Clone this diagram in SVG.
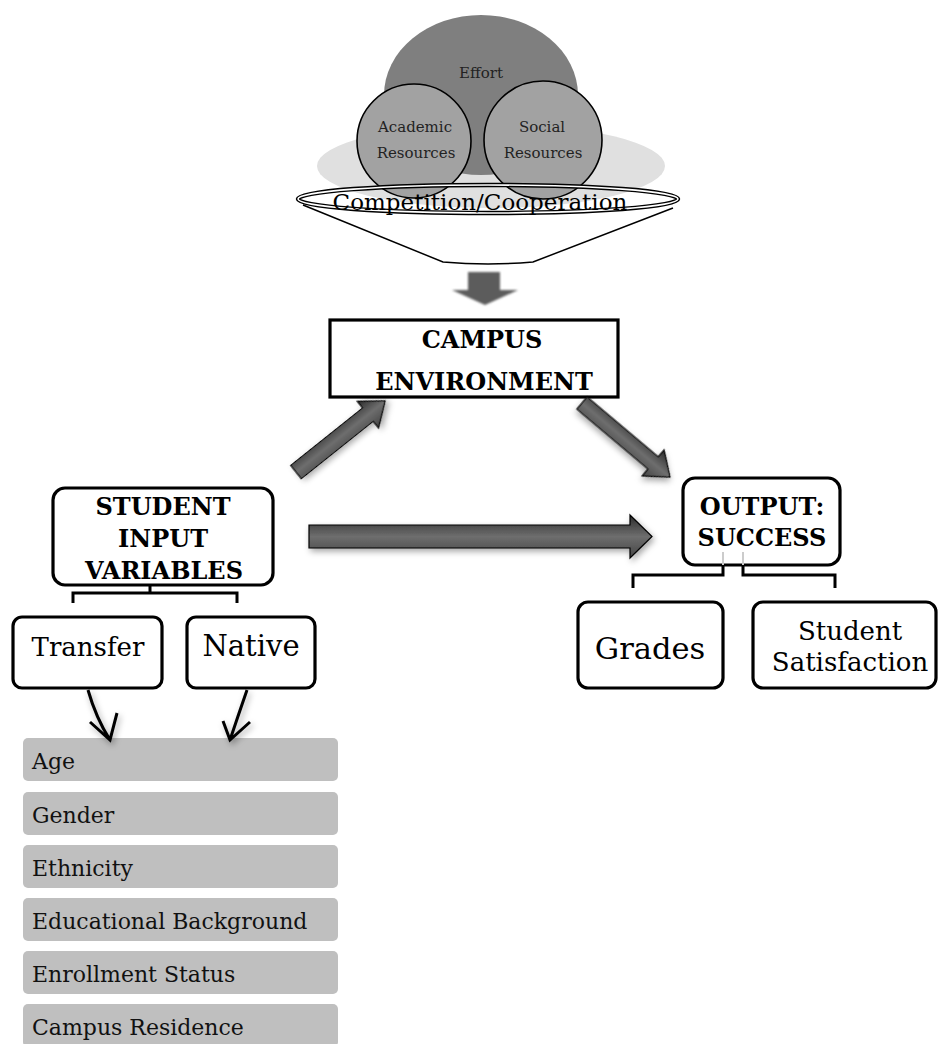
<svg xmlns="http://www.w3.org/2000/svg" width="938" height="1044" viewBox="0 0 938 1044">
<style>
.box{fill:#fff;stroke:#000;stroke-width:3.2}
.hd{font-family:"DejaVu Serif","Liberation Serif",serif;font-weight:bold;font-size:24px;fill:#000;text-anchor:middle}
.lb{font-family:"DejaVu Serif","Liberation Serif",serif;fill:#000;text-anchor:middle}
.sm{font-family:"DejaVu Serif","Liberation Serif",serif;font-size:15px;fill:#222;text-anchor:middle}
.bar{fill:#bfbfbf}
.bt{font-family:"DejaVu Serif","Liberation Serif",serif;font-size:22px;fill:#111}
.ln{fill:none;stroke:#000;stroke-width:3}
.blk{fill:url(#g);stroke:#000;stroke-width:1.2;filter:url(#sh)}
</style>
<defs>
<linearGradient id="g" x1="0" y1="0" x2="0" y2="1">
<stop offset="0" stop-color="#2a2a2a"/>
<stop offset="0.5" stop-color="#6e6e6e"/>
<stop offset="1" stop-color="#444"/>
</linearGradient>
<filter id="sh" x="-20%" y="-40%" width="140%" height="180%">
<feDropShadow dx="2" dy="3" stdDeviation="3" flood-color="#000" flood-opacity="0.35"/>
</filter>
<filter id="bl" x="-20%" y="-20%" width="140%" height="140%">
<feGaussianBlur stdDeviation="0.8"/>
</filter>
</defs>

<g id="cluster">
<ellipse cx="491" cy="166" rx="174" ry="42" fill="#e0e0e0"/>
<ellipse cx="481" cy="95" rx="97" ry="80" fill="#7f7f7f"/>
<text class="sm" x="481" y="78">Effort</text>
<circle cx="414" cy="141" r="57" fill="#a2a2a2" stroke="#000" stroke-width="1.6"/>
<circle cx="543" cy="140" r="59" fill="#a2a2a2" stroke="#000" stroke-width="1.6"/>
<text class="sm" x="415" y="132">Academic</text>
<text class="sm" x="416" y="158">Resources</text>
<text class="sm" x="542" y="132">Social</text>
<text class="sm" x="543" y="158">Resources</text>
<path d="M303,205 L443,262 Q488,266 533,262 L673,208" fill="none" stroke="#000" stroke-width="1.5"/>
<ellipse cx="488" cy="199" rx="190" ry="14" fill="none" stroke="#000" stroke-width="4.5"/>
<ellipse cx="488" cy="199" rx="190" ry="14" fill="none" stroke="#fff" stroke-width="1.6"/>
<text class="lb" x="480" y="210" font-size="23">Competition/Cooperation</text>
</g>

<g id="campus">
<rect class="box" x="330" y="320" width="288" height="77"/>
<text class="hd" x="482" y="348">CAMPUS</text>
<text class="hd" x="484" y="390">ENVIRONMENT</text>
</g>

<g id="student-input">
<rect class="box" x="53" y="488" width="220" height="97" rx="12"/>
<text class="hd" x="163" y="515">STUDENT</text>
<text class="hd" x="163" y="547">INPUT</text>
<text class="hd" x="164" y="579">VARIABLES</text>
</g>

<g id="transfer">
<rect class="box" x="13" y="617" width="149" height="71" rx="9"/>
<text class="lb" x="88" y="656" font-size="26">Transfer</text>
</g>
<g id="native">
<rect class="box" x="187" y="617" width="128" height="71" rx="9"/>
<text class="lb" x="251" y="656" font-size="29">Native</text>
</g>

<g id="output">
<rect class="box" x="683" y="478" width="157" height="87" rx="12"/>
<text class="hd" x="762" y="515">OUTPUT:</text>
<text class="hd" x="762" y="546">SUCCESS</text>
</g>

<g id="grades">
<rect class="box" x="578" y="602" width="145" height="86" rx="10"/>
<text class="lb" x="650" y="659" font-size="30.5">Grades</text>
</g>
<g id="satisfaction">
<rect class="box" x="753" y="602" width="183" height="86" rx="10"/>
<text class="lb" x="850" y="640" font-size="26">Student</text>
<text class="lb" x="850" y="671" font-size="26">Satisfaction</text>
</g>

<g id="attributes">
<rect class="bar" x="23" y="738" width="315" height="43" rx="5"/>
<text class="bt" x="32" y="769">Age</text>
<rect class="bar" x="23" y="792" width="315" height="43" rx="5"/>
<text class="bt" x="32" y="823">Gender</text>
<rect class="bar" x="23" y="845" width="315" height="43" rx="5"/>
<text class="bt" x="32" y="876">Ethnicity</text>
<rect class="bar" x="23" y="898" width="315" height="43" rx="5"/>
<text class="bt" x="32" y="929">Educational Background</text>
<rect class="bar" x="23" y="951" width="315" height="43" rx="5"/>
<text class="bt" x="32" y="982">Enrollment Status</text>
<rect class="bar" x="23" y="1004" width="315" height="43" rx="5"/>
<text class="bt" x="32" y="1035">Campus Residence</text>
</g>

<g id="connectors">
<path d="M470,272 H500 V290 H518 L485,305 L452,290 H468 V272 Z" fill="#5c5c5c" filter="url(#bl)"/>
<path class="blk" d="M309,525 H630 V515 L652,536.5 L630,558 V548 H309 Z"/>
<g transform="translate(296,472) rotate(-38.6)">
<path class="blk" d="M0,-8.5 H92 V-17 L114,0 L92,17 V8.5 H0 Z"/>
</g>
<g transform="translate(582,403) rotate(40.1)">
<path class="blk" d="M0,-8 H93 V-17 L115,0 L93,17 V8 H0 Z"/>
</g>
<path class="ln" d="M150,585 V593 M73,603 V593 H237 V603"/>
<path class="ln" d="M723,565 V575 H633 V588 M743,565 V575 H835 V588"/>
<path d="M723,552 V565 M743,552 V565" stroke="#ccc" stroke-width="2"/>
<g filter="url(#sh)">
<path class="ln" d="M88,690 Q96,718 110,740 M90,722 L110,740 L117,713"/>
<path class="ln" d="M247,690 Q238,716 230,740 M223,721 L230,740 L250,722"/>
</g>
</g>
</svg>
